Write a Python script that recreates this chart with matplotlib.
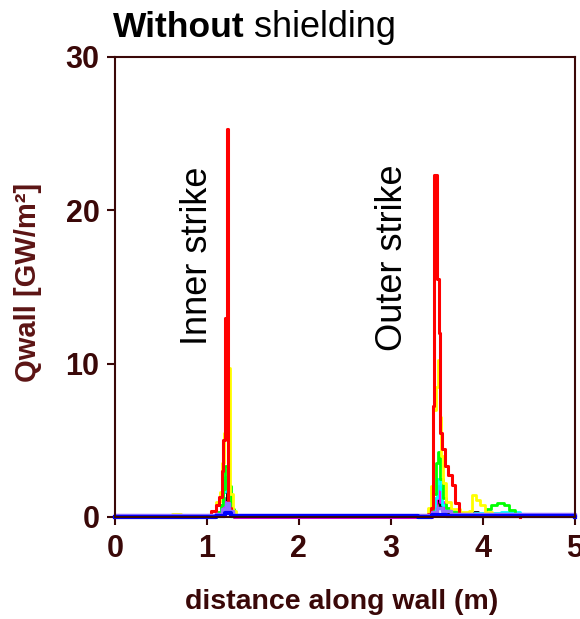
import matplotlib
matplotlib.use('Agg')
import matplotlib.pyplot as plt

plt.rcParams['font.family'] = ['Liberation Sans', 'DejaVu Sans']

# step profiles of wall heat load, one per run (x in m, q in GW/m2)
red_x = [0.0, 0.9, 1.0, 1.05, 1.1, 1.13, 1.16, 1.18, 1.2, 1.22, 1.235, 1.26, 1.3,
         3.3, 3.4, 3.44, 3.46, 3.475, 3.5, 3.52, 3.535, 3.56, 3.59, 3.62, 3.66, 3.7, 3.74, 3.8, 4.4]
red_y = [0.02, 0.05, 0.15, 0.4, 0.8, 1.3, 3.0, 5.0, 13.0, 25.3, 0.6, 0.1, 0.03,
         0.05, 0.2, 0.6, 7.2, 22.3, 15.5, 12.0, 5.5, 4.4, 3.3, 2.7, 2.1, 0.9, 0.2, 0.05, 0.02]

yellow_x = [0.0, 0.5, 0.62, 0.72, 0.9, 1.05, 1.1, 1.14, 1.17, 1.19, 1.21, 1.235, 1.25, 1.28, 1.32,
            3.3, 3.4, 3.44, 3.46, 3.49, 3.51, 3.53, 3.55, 3.57, 3.6, 3.65, 3.75, 3.85, 3.88,
            3.93, 3.97, 4.02, 4.1, 4.4]
yellow_y = [0.03, 0.05, 0.2, 0.05, 0.1, 0.4, 1.0, 1.6, 3.5, 5.5, 7.0, 9.7, 1.5, 0.4, 0.05,
            0.05, 0.6, 2.0, 7.0, 8.5, 10.2, 6.5, 4.0, 2.2, 1.0, 0.5, 0.3, 0.4, 1.4,
            1.1, 0.8, 0.3, 0.1, 0.02]

green_x = [0.0, 0.1, 0.5, 1.0, 1.1, 1.15, 1.18, 1.2, 1.23, 1.26, 1.3,
           3.3, 3.42, 3.46, 3.49, 3.51, 3.54, 3.57, 3.6, 3.65, 3.75, 3.95, 4.04, 4.09,
           4.15, 4.23, 4.28, 4.35, 4.4]
green_y = [0.03, 0.1, 0.05, 0.1, 0.3, 0.8, 1.8, 3.3, 2.0, 0.5, 0.05,
           0.05, 0.4, 1.5, 3.5, 4.2, 2.5, 1.2, 0.6, 0.3, 0.1, 0.2, 0.5, 0.8,
           0.9, 0.8, 0.45, 0.2, 0.03]

cyan_x = [0.0, 1.1, 1.15, 1.18, 1.2, 1.23, 1.26, 1.3,
          3.3, 3.44, 3.48, 3.5, 3.53, 3.56, 3.6, 3.7, 3.9, 4.2, 4.4]
cyan_y = [0.02, 0.2, 0.8, 1.6, 2.6, 1.0, 0.3, 0.03,
          0.03, 0.4, 1.2, 2.5, 1.8, 0.8, 0.4, 0.2, 0.25, 0.3, 0.03]

magenta_x = [0.0, 1.1, 1.16, 1.19, 1.22, 1.25, 1.3,
             3.3, 3.45, 3.49, 3.51, 3.54, 3.58, 3.65, 4.0, 4.4]
magenta_y = [0.02, 0.1, 0.5, 1.0, 0.6, 0.2, 0.02,
             0.02, 0.3, 1.2, 2.0, 1.0, 0.4, 0.15, 0.1, 0.02]

black_x = [0.0, 1.1, 1.15, 1.18, 1.2, 1.22, 1.25, 1.3,
           3.3, 3.44, 3.47, 3.5, 3.53, 3.57, 3.62, 3.7, 3.9, 3.95, 4.4]
black_y = [0.02, 0.1, 0.8, 2.4, 1.6, 0.8, 0.2, 0.02,
           0.02, 0.4, 0.9, 1.1, 0.7, 0.4, 0.2, 0.1, 0.3, 0.1, 0.02]

gray_x = [0.0, 1.1, 1.16, 1.2, 1.23, 1.27, 3.3, 3.45, 3.5, 3.55, 3.6, 3.7, 4.4]
gray_y = [0.02, 0.2, 0.7, 1.2, 0.5, 0.05, 0.02, 0.3, 0.8, 0.6, 0.3, 0.1, 0.02]

purple_x = [0.0, 1.1, 1.17, 1.21, 1.24, 1.28, 3.3, 3.45, 3.5, 3.56, 3.65, 5.0]
purple_y = [0.15, 0.2, 0.5, 0.9, 0.4, 0.15, 0.15, 0.3, 0.6, 0.4, 0.2, 0.15]

blue_x = [0.0, 1.1, 1.2, 1.26, 3.3, 3.45, 3.6, 5.0]
blue_y = [0.0, 0.05, 0.25, 0.05, 0.0, 0.15, 0.05, 0.0]

x_ticks = [0, 1, 2, 3, 4, 5]
y_ticks = [0, 10, 20, 30]

brown = '#3a0808'
ylab_col = '#5c1414'

fig = plt.figure(figsize=(5.8, 6.19), dpi=100)
ax = fig.add_axes([0.198, 0.165, 0.793, 0.743])

series = [
    (gray_x, gray_y, '#808080', 2.0),
    (black_x, black_y, 'black', 2.0),
    (magenta_x, magenta_y, '#ff00ff', 2.0),
    (cyan_x, cyan_y, '#00ffff', 2.0),
    (green_x, green_y, '#00ff00', 2.0),
    (yellow_x, yellow_y, '#ffff00', 2.0),
    (red_x, red_y, '#ff0000', 2.2),
    (purple_x, purple_y, '#9370ff', 2.5),
    (blue_x, blue_y, '#0000ff', 3.0),
]
for xs, ys, c, lw in series:
    ax.plot(xs, ys, drawstyle='steps-post', color=c, lw=lw, clip_on=False)

ax.set_xlim(0, 5)
ax.set_ylim(0, 30)
ax.set_xticks(x_ticks)
ax.set_yticks(y_ticks)
for s in ax.spines.values():
    s.set_color(brown)
    s.set_linewidth(1.5)
ax.tick_params(direction='out', length=6, width=1.5, color=brown,
               labelcolor=brown, labelsize=22)
for lab in ax.get_xticklabels() + ax.get_yticklabels():
    lab.set_fontweight('bold')
ax.tick_params(axis='x', pad=6)
ax.tick_params(axis='y', pad=5)

ax.text(0.9, 17.0, 'Inner strike', rotation=90, ha='center', va='center', fontsize=26)
ax.text(3.02, 16.9, 'Outer strike', rotation=90, ha='center', va='center', fontsize=26)

fig.text(113 / 580, 1 - 37 / 619, 'Without', fontsize=25.5, fontweight='bold')
fig.text(254 / 580, 1 - 37 / 619, 'shielding', fontsize=26)
fig.text(342 / 580, 1 - 602 / 619, 'distance along wall (m)', fontsize=20.5,
         fontweight='bold', color=brown, ha='center', va='center')
fig.text(28 / 580, 1 - 282 / 619, 'Qwall [GW/m²]', fontsize=21, fontweight='bold',
         color=ylab_col, rotation=90, ha='center', va='center')

fig.savefig('out.png', dpi=100)
